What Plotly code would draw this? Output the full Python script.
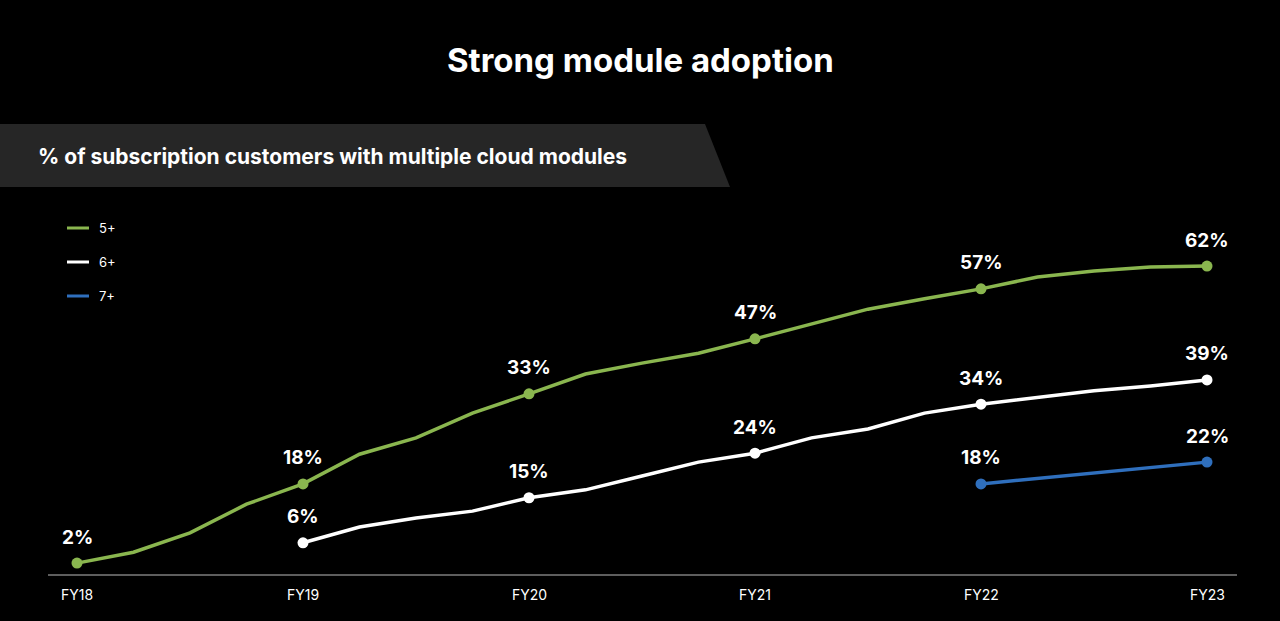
import plotly.graph_objects as go

W, H = 1280, 621
fy_labels = ["FY18", "FY19", "FY20", "FY21", "FY22", "FY23"]
fy_pos = [0, 4, 8, 12, 16, 20]

q5 = list(range(0, 21))
v5 = [2.0, 4.2, 8.1, 13.9, 18.0, 24.0, 27.3, 32.3, 36.2, 40.2, 42.4, 44.4, 47.3,
      50.3, 53.3, 55.4, 57.4, 59.8, 61.0, 61.8, 62.0]
q6 = list(range(4, 21))
v6 = [6.1, 9.3, 11.1, 12.5, 15.2, 16.8, 19.6, 22.4, 24.2, 27.3, 29.1, 32.3, 34.1,
      35.4, 36.8, 37.8, 39.0]
q7 = [16, 20]
v7 = [18.0, 22.4]

lbl5 = {0: "2%", 4: "18%", 8: "33%", 12: "47%", 16: "57%", 20: "62%"}
lbl6 = {4: "6%", 8: "15%", 12: "24%", 16: "34%", 20: "39%"}
lbl7 = {16: "18%", 20: "22%"}

GREEN, WHITE, BLUE = "#8ab64f", "#ffffff", "#2f6fbd"
FONT = "Inter"

px_per_q = 56.5
x0px = 77
px_per_pct = 4.95
y0px = 573
xr = [-x0px / px_per_q, (W - x0px) / px_per_q]
yr = [-(H - y0px) / px_per_pct, y0px / px_per_pct]

fig = go.Figure()
ann = []
for name, q, v, lbls, col in [("5+", q5, v5, lbl5, GREEN), ("6+", q6, v6, lbl6, WHITE), ("7+", q7, v7, lbl7, BLUE)]:
    fig.add_trace(go.Scatter(x=q, y=v, mode="lines", line=dict(color=col, width=3.5),
                             hoverinfo="skip", showlegend=False))
    mx = [x for x in q if x in lbls]
    my = [v[q.index(x)] for x in mx]
    fig.add_trace(go.Scatter(x=mx, y=my, mode="markers", marker=dict(color=col, size=11),
                             showlegend=False, cliponaxis=False, hoverinfo="skip"))
    for x, y in zip(mx, my):
        ann.append(dict(text="<b>" + lbls[x] + "</b>", x=x, y=y, xref="x", yref="y", yshift=26,
                        showarrow=False, yanchor="middle", font=dict(color="white", size=19, family=FONT)))

def P(px, py):
    return px / W, 1 - py / H

shapes = []
pts = [P(0, 124), P(705, 124), P(730, 187), P(0, 187)]
path = "M " + " L ".join(f"{a},{b}" for a, b in pts) + " Z"
shapes.append(dict(type="path", path=path, xref="paper", yref="paper", fillcolor="#262626", line=dict(width=0), layer="below"))
a, b = P(48, 575); c, d = P(1237, 575)
shapes.append(dict(type="line", xref="paper", yref="paper", x0=a, y0=b, x1=c, y1=d, line=dict(color="#bbbbbb", width=1)))
for i, (name, col) in enumerate([("5+", GREEN), ("6+", WHITE), ("7+", BLUE)]):
    ly = 228 + 34 * i
    a, b = P(67, ly); c, d = P(89, ly)
    shapes.append(dict(type="line", xref="paper", yref="paper", x0=a, y0=b, x1=c, y1=d, line=dict(color=col, width=3)))

ann.append(dict(text="<b>Strong module adoption</b>", x=0.5, y=1 - 60 / H, xref="paper", yref="paper",
                yanchor="middle", showarrow=False, font=dict(size=33, color="white", family=FONT)))
ann.append(dict(text="<b>% of subscription customers with multiple cloud modules</b>", x=36 / W, y=1 - 156 / H,
                xref="paper", yref="paper", xanchor="left", yanchor="middle", showarrow=False,
                font=dict(size=21, color="white", family=FONT)))
for i, name in enumerate(["5+", "6+", "7+"]):
    ann.append(dict(text=name, x=97 / W, y=1 - (228 + 34 * i) / H, xref="paper", yref="paper",
                    xanchor="left", yanchor="middle", showarrow=False, font=dict(size=13, color="white", family=FONT)))
for lab, p in zip(fy_labels, fy_pos):
    ann.append(dict(text=lab, x=p, y=1 - 594 / H, xref="x", yref="paper", yanchor="middle", showarrow=False,
                    font=dict(size=14, color="white", family=FONT)))

fig.update_layout(width=W, height=H, margin=dict(l=0, r=0, t=0, b=0),
                  paper_bgcolor="black", plot_bgcolor="black",
                  xaxis=dict(range=xr, visible=False), yaxis=dict(range=yr, visible=False),
                  shapes=shapes, annotations=ann)
fig.write_html("out.html", config={"displayModeBar": False},
               post_script="document.body.style.margin='0';document.body.style.background='black';")
